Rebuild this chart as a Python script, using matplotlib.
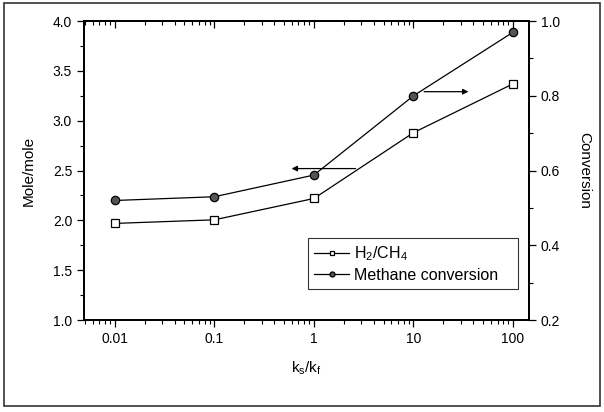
import matplotlib
matplotlib.use("Agg")
import matplotlib.pyplot as plt
from matplotlib.patches import Rectangle
from matplotlib.ticker import MultipleLocator, LogLocator, NullFormatter

plt.rcParams["font.family"] = ["Liberation Sans", "DejaVu Sans"]
plt.rcParams["mathtext.default"] = "regular"

# data
ratio = [0.01, 0.1, 1, 10, 100]
h2_ch4 = [1.97, 2.006, 2.22, 2.88, 3.37]
conversion = [0.520, 0.530, 0.588, 0.800, 0.970]
xtick_labels = ["0.01", "0.1", "1", "10", "100"]

fig = plt.figure(figsize=(6.04, 4.12), dpi=100)
ax = fig.add_axes([0.139, 0.223, 0.737, 0.726])
ax2 = ax.twinx()

ax.plot(ratio, h2_ch4, color="black", lw=0.9, marker="s", ms=6,
        mfc="white", mec="black", mew=0.9, label="H$_2$/CH$_4$")
ax2.plot(ratio, conversion, color="black", lw=0.9, marker="o", ms=6,
         mfc="#555555", mec="black", mew=0.9, label="Methane conversion")

ax.set_xscale("log")
ax.set_xlim(0.0049, 145)
ax.set_ylim(1.0, 4.0)
ax2.set_ylim(0.2, 1.0)

ax.set_xticks(ratio)
ax.set_xticklabels(xtick_labels)
ax.xaxis.set_minor_locator(LogLocator(base=10, subs=range(2, 10), numticks=20))
ax.xaxis.set_minor_formatter(NullFormatter())
ax.yaxis.set_major_locator(MultipleLocator(0.5))
ax.yaxis.set_minor_locator(MultipleLocator(0.25))
ax2.yaxis.set_major_locator(MultipleLocator(0.2))
ax2.yaxis.set_minor_locator(MultipleLocator(0.1))

ax.tick_params(axis="x", which="both", direction="out", top=False, labelsize=10)
ax.tick_params(axis="x", which="major", length=5, width=0.9)
ax.tick_params(axis="x", which="minor", length=3, width=0.8)
ax.tick_params(axis="y", which="major", direction="out", length=5, width=0.9, labelsize=10)
ax.tick_params(axis="y", which="minor", direction="out", length=3, width=0.8)
ax2.tick_params(axis="y", which="major", direction="out", length=5, width=0.9, labelsize=10)
ax2.tick_params(axis="y", which="minor", direction="out", length=3, width=0.8)

# inward ticks along the top edge
secx = ax.secondary_xaxis("top")
secx.set_xticks(ratio)
secx.xaxis.set_minor_locator(LogLocator(base=10, subs=range(2, 10), numticks=20))
secx.tick_params(axis="x", which="both", direction="in", labeltop=False)
secx.tick_params(axis="x", which="major", length=5, width=0.9)
secx.tick_params(axis="x", which="minor", length=3, width=0.8)

for a in (ax, ax2):
    for s in a.spines.values():
        s.set_linewidth(1.3)
secx.spines["top"].set_linewidth(1.3)

ax.set_xlabel("k$_s$/k$_f$", fontsize=11, labelpad=10)
ax.set_ylabel("Mole/mole", fontsize=11, labelpad=12)
ax2.set_ylabel("Conversion", fontsize=11, rotation=270, labelpad=22)

# arrows pointing to each series' axis
ax.annotate("", xy=(0.56, 2.52), xytext=(2.8, 2.52),
            arrowprops=dict(arrowstyle="-|>", color="black", lw=0.9,
                            mutation_scale=8))
ax2.annotate("", xy=(38, 0.811), xytext=(12, 0.811),
             arrowprops=dict(arrowstyle="-|>", color="black", lw=0.9,
                             mutation_scale=8))

h1, l1 = ax.get_legend_handles_labels()
h2, l2 = ax2.get_legend_handles_labels()
leg = ax2.legend(h1 + h2, l1 + l2, loc="lower left",
                 bbox_to_anchor=(0.503, 0.103, 0.471, 0.145),
                 mode="expand", fontsize=11.5, frameon=True, fancybox=False,
                 handlelength=2.2, handletextpad=0.3, borderpad=0.4,
                 labelspacing=0.3, borderaxespad=0, markerscale=0.6)
leg.get_frame().set_edgecolor("black")
leg.get_frame().set_linewidth(0.8)

# outer frame around the whole picture
fig.patches.append(Rectangle((0.006, 0.015), 0.988, 0.977, transform=fig.transFigure,
                             fill=False, edgecolor="#333333", lw=1.2))

fig.savefig("out.png", dpi=100)
